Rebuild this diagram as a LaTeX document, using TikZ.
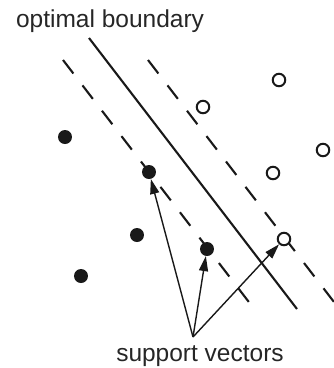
\documentclass[tikz,border=0pt]{standalone}
\usepackage{fontspec}
\setmainfont{Liberation Sans}
\usetikzlibrary{arrows.meta,positioning}

\begin{document}
\begin{tikzpicture}[x=1pt,y=-1pt,
  classA/.style={circle,fill=black!90,inner sep=0pt,minimum size=14pt},
  classB/.style={circle,draw=black!90,line width=2pt,fill=white,inner sep=0pt,minimum size=12.5pt},
  margin/.style={line width=2.1pt,black!90,dash pattern=on 17pt off 15pt},
  pointer/.style={-{Triangle[length=15pt,width=9pt]},line width=1.4pt,black!90},
  label/.style={font=\fontsize{24.5}{28}\selectfont,text=black!85,inner sep=0pt}]
  \useasboundingbox (0,0) rectangle (334,368);
  % Boundary and margins
  \coordinate (b1) at (89,38);   \coordinate (b2) at (297,309);
  \coordinate (l1) at (63,60);   \coordinate (l2) at (255,310);
  \coordinate (r1) at (148,60);  \coordinate (r2) at (334,302);
  \draw[line width=2.1pt,black!90] (b1) -- (b2);
  \draw[margin] (l1) -- (l2);
  \draw[margin] (r1) -- (r2);
  % Filled class
  \node[classA] (f1) at (65,137) {};
  \node[classA] (f2) at (149,172) {};
  \node[classA] (f3) at (137,235) {};
  \node[classA] (f4) at (81,276) {};
  \node[classA] (f5) at (207,249) {};
  % Open class
  \node[classB] (o1) at (279,80) {};
  \node[classB] (o2) at (203,107) {};
  \node[classB] (o3) at (323,150) {};
  \node[classB] (o4) at (273,173) {};
  \node[classB] (o5) at (284,239) {};
  % Labels
  \node[label] (ob) at (110,21) {optimal boundary};
  \node[label] (sv) at (200,356) {support vectors};
  \coordinate (base) at (193,337);
  \draw[pointer] (base) -- (f2);
  \draw[pointer] (base) -- (f5);
  \draw[pointer] (base) -- (o5);
\end{tikzpicture}
\end{document}
